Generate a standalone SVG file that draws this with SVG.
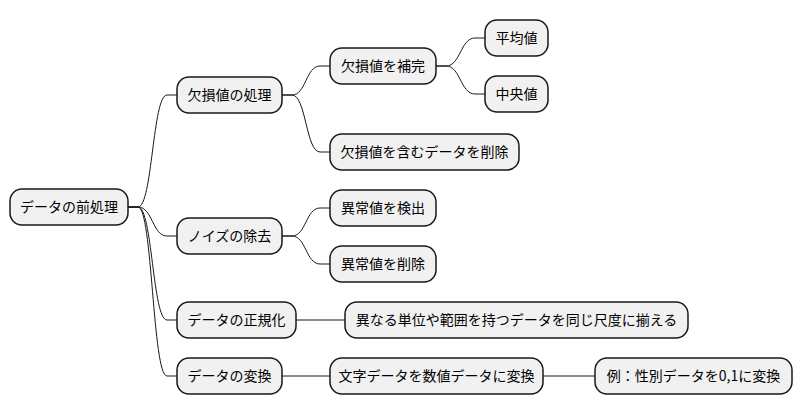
<svg xmlns="http://www.w3.org/2000/svg" width="805" height="415" viewBox="0 0 805 415">
<style>
.n rect{fill:#F1F1F1;stroke:#181818;stroke-width:1.5}
.n text{font-family:"Noto Sans CJK JP","Noto Sans",sans-serif;font-size:14px;fill:#000;text-anchor:middle}
#edges path{fill:none;stroke:#181818;stroke-width:1}
</style>
<rect width="805" height="415" fill="#FFFFFF"/>
<g id="edges">
<path d="M128,207 L138,207 C152.5,207 152.5,95 167,95 L177,95"/>
<path d="M128,207 L138,207 C152.5,207 152.5,236 167,236 L177,236"/>
<path d="M128,207 L138,207 C152.5,207 152.5,320 167,320 L177,320"/>
<path d="M128,207 L138,207 C152.5,207 152.5,376 167,376 L177,376"/>
<path d="M282,95 L292,95 C306,95 306,66 320,66 L330,66"/>
<path d="M282,95 L292,95 C306,95 306,152 320,152 L330,152"/>
<path d="M436,66 L446,66 C460.5,66 460.5,38 475,38 L485,38"/>
<path d="M436,66 L446,66 C460.5,66 460.5,94 475,94 L485,94"/>
<path d="M282,236 L292,236 C306,236 306,208 320,208 L330,208"/>
<path d="M282,236 L292,236 C306,236 306,264 320,264 L330,264"/>
<path d="M296,320 L345,320"/>
<path d="M282,376 L330,376"/>
<path d="M543,376 L595,376"/>
</g>
<g id="root" class="n"><rect x="10" y="189" width="118" height="36" rx="12"/><text x="69" y="212">データの前処理</text></g>
<g id="n1" class="n"><rect x="177" y="77" width="105" height="36" rx="12"/><text x="229.5" y="100">欠損値の処理</text></g>
<g id="n1a" class="n"><rect x="330" y="48" width="106" height="36" rx="12"/><text x="383" y="71">欠損値を補完</text></g>
<g id="n1a1" class="n"><rect x="485" y="20" width="63" height="36" rx="12"/><text x="516.5" y="43">平均値</text></g>
<g id="n1a2" class="n"><rect x="485" y="76" width="63" height="36" rx="12"/><text x="516.5" y="99">中央値</text></g>
<g id="n1b" class="n"><rect x="330" y="134" width="189" height="36" rx="12"/><text x="424.5" y="157">欠損値を含むデータを削除</text></g>
<g id="n2" class="n"><rect x="177" y="218" width="105" height="36" rx="12"/><text x="229.5" y="241">ノイズの除去</text></g>
<g id="n2a" class="n"><rect x="330" y="190" width="106" height="36" rx="12"/><text x="383" y="213">異常値を検出</text></g>
<g id="n2b" class="n"><rect x="330" y="246" width="106" height="36" rx="12"/><text x="383" y="269">異常値を削除</text></g>
<g id="n3" class="n"><rect x="177" y="302" width="119" height="36" rx="12"/><text x="236.5" y="325">データの正規化</text></g>
<g id="n3a" class="n"><rect x="345" y="302" width="343" height="36" rx="12"/><text x="516.5" y="325">異なる単位や範囲を持つデータを同じ尺度に揃える</text></g>
<g id="n4" class="n"><rect x="177" y="358" width="105" height="36" rx="12"/><text x="229.5" y="381">データの変換</text></g>
<g id="n4a" class="n"><rect x="330" y="358" width="213" height="36" rx="12"/><text x="436.5" y="381">文字データを数値データに変換</text></g>
<g id="n4a1" class="n"><rect x="595" y="358" width="197" height="36" rx="12"/><text x="693.5" y="381">例：性別データを0,1に変換</text></g>
</svg>
